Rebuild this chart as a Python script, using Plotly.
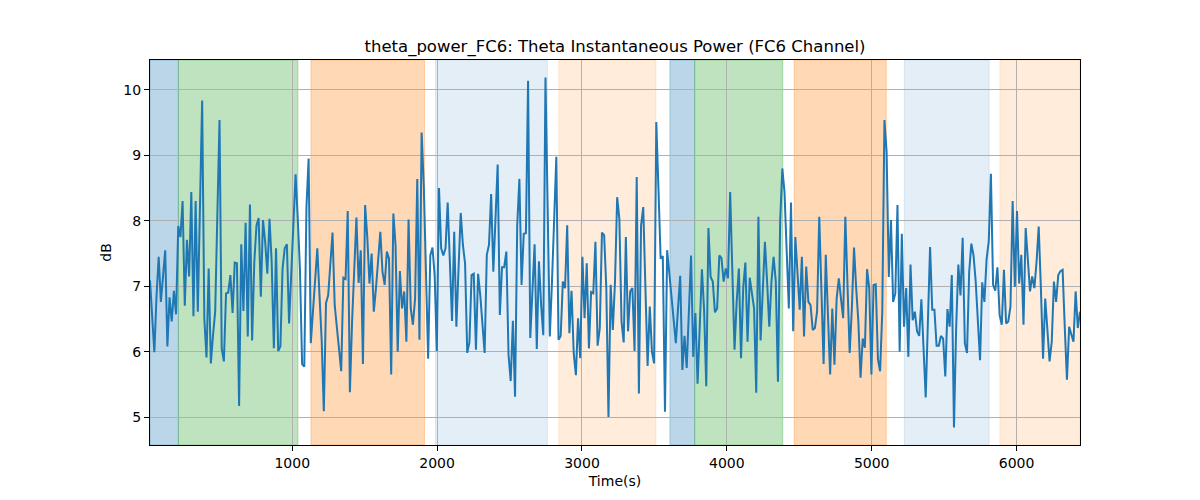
import plotly.graph_objects as go

# ---- data ----
t_start = 18.0      # first sample time (s)
t_step = 15.0       # sampling step (s)

power_db = [
    # 0-49
    7.09, 6.55, 5.99, 6.85, 7.45, 6.76, 7.20, 7.55, 6.08, 6.83,
    6.46, 6.93, 6.57, 7.92, 7.75, 8.30, 6.70, 7.71, 7.15, 8.44,
    6.54, 8.30, 6.61, 8.20, 9.84, 6.51, 5.91, 7.27, 5.82, 6.25,
    6.61, 8.10, 9.54, 6.05, 5.85, 6.89, 6.90, 7.17, 6.59, 7.36,
    7.35, 5.17, 7.64, 6.62, 7.97, 6.23, 8.25, 6.17, 7.37, 7.93,
    # 50-103
    8.04, 6.84, 8.01, 7.68, 7.19, 8.03, 7.37, 6.05, 7.58, 6.01,
    6.08, 7.27, 7.58, 7.64, 6.43, 7.19, 8.01, 8.71, 8.03, 7.27,
    5.81, 5.77, 8.21, 8.95, 6.13, 6.64, 7.07, 7.58, 6.86, 6.18,
    5.09, 6.74, 6.86, 7.32, 7.82, 6.71, 6.36, 6.05, 5.70, 7.13,
    7.11, 8.15, 5.38, 6.46, 7.14, 8.05, 7.05, 7.55, 5.81, 8.24,
    7.75, 7.04, 7.50, 6.61,
    # 104-156
    6.97, 7.37, 7.83, 7.22, 7.02, 7.53, 7.42, 5.65, 8.11, 7.63,
    6.00, 7.23, 6.66, 6.92, 6.15, 8.02, 6.66, 6.41, 6.81, 8.64,
    6.18, 9.35, 8.54, 7.22, 5.89, 7.47, 7.59, 7.17, 6.01, 8.50,
    7.58, 7.47, 7.58, 8.28, 7.37, 6.47, 7.83, 6.38, 7.27, 8.12,
    7.63, 7.35, 5.98, 6.14, 7.17, 7.19, 6.03, 7.19, 6.86, 6.36,
    5.98, 7.48, 7.63,
    # 157-211
    8.41, 7.22, 8.03, 8.86, 6.56, 7.29, 7.29, 7.53, 5.95, 5.55,
    6.47, 5.31, 7.93, 8.64, 7.02, 7.80, 7.81, 10.14, 6.21, 6.97,
    7.64, 6.04, 7.38, 6.71, 6.25, 10.19, 7.98, 6.23, 7.07, 7.98,
    8.98, 6.18, 6.24, 7.07, 6.97, 7.93, 6.28, 6.93, 5.98, 5.64,
    6.51, 5.90, 7.45, 6.51, 7.35, 6.05, 6.91, 6.89, 7.68, 6.09,
    6.36, 7.82, 7.78, 6.97, 5.00,
    # 212-264
    7.02, 6.33, 7.07, 8.36, 8.03, 6.46, 6.14, 7.75, 6.31, 6.92,
    6.97, 6.01, 8.67, 5.36, 7.93, 8.21, 6.97, 5.78, 6.69, 6.00,
    5.82, 9.51, 8.49, 7.42, 7.46, 5.08, 7.55, 7.17, 6.79, 6.46,
    6.13, 6.66, 7.16, 5.72, 6.24, 5.75, 6.66, 7.47, 5.92, 6.59,
    5.51, 6.46, 7.26, 6.64, 5.47, 7.89, 7.14, 7.07, 6.60, 6.66,
    7.47, 7.43, 7.07,
    # 265-317
    7.27, 7.12, 8.44, 7.22, 6.03, 6.76, 7.27, 5.90, 6.97, 7.36,
    6.15, 7.13, 6.86, 6.66, 5.37, 8.06, 6.17, 6.97, 7.68, 7.07,
    6.38, 7.07, 7.45, 7.07, 5.54, 7.98, 8.80, 8.44, 7.37, 6.66,
    8.28, 6.31, 7.75, 7.22, 6.64, 7.45, 6.23, 7.30, 6.76, 6.71,
    6.33, 6.36, 6.61, 8.06, 6.97, 5.81, 7.48, 6.51, 5.65, 6.66,
    5.80, 6.81, 7.12,
    # 318-370
    6.81, 6.51, 8.06, 6.97, 5.98, 6.66, 7.59, 6.97, 6.46, 5.60,
    6.20, 6.06, 7.26, 6.97, 5.65, 7.02, 7.03, 5.89, 5.70, 6.61,
    9.54, 9.05, 7.14, 8.01, 6.76, 6.89, 8.24, 6.00, 7.80, 6.38,
    6.97, 5.92, 7.33, 6.48, 6.61, 6.31, 6.24, 6.80, 6.05, 5.30,
    6.46, 7.60, 6.64, 6.64, 6.09, 6.09, 6.24, 6.20, 5.62, 6.65,
    6.38, 7.17, 4.84,
    # 371-428
    6.36, 7.33, 6.86, 7.74, 6.13, 5.98, 7.22, 7.65, 7.47, 7.07,
    6.46, 5.87, 7.06, 6.76, 7.41, 7.68, 8.72, 7.02, 6.93, 7.29,
    6.56, 6.41, 7.25, 6.43, 6.46, 6.69, 8.30, 6.99, 8.15, 7.04,
    7.48, 6.41, 7.89, 7.42, 6.92, 7.15, 6.97, 7.37, 7.91, 6.97,
    5.89, 6.81, 6.36, 5.85, 6.15, 7.07, 6.76, 7.17, 7.23, 7.25,
    6.36, 5.57, 6.38, 6.28, 6.15, 6.92, 6.36, 6.61,
]

time_s = [t_start + t_step * i for i in range(len(power_db))]

# shaded segments: (start, end, colour name, strength)
seg_start = [18, 214, 1129, 1989, 2840, 3607, 3778, 4465, 5225, 5885]
seg_end = [214, 1039, 1913, 2761, 3510, 3778, 4386, 5101, 5811, 6460]
seg_color = ["blue", "green", "orange", "blue", "orange",
             "blue", "green", "orange", "blue", "orange"]
seg_alpha = [0.3, 0.3, 0.3, 0.12, 0.15, 0.3, 0.3, 0.3, 0.12, 0.15]

rgb = {"blue": (31, 119, 180), "green": (44, 160, 44), "orange": (255, 127, 14)}

title_text = "theta_power_FC6: Theta Instantaneous Power (FC6 Channel)"
x_ticks = [1000, 2000, 3000, 4000, 5000, 6000]
y_ticks = [5, 6, 7, 8, 9, 10]

# ---- figure ----
fig = go.Figure()

x_lo, x_hi = time_s[0], time_s[-1]
for s, e, c, a in zip(seg_start, seg_end, seg_color, seg_alpha):
    r, g, b = rgb[c]
    fig.add_vrect(
        x0=max(s, x_lo), x1=min(e, x_hi),
        fillcolor=f"rgba({r},{g},{b},{a})",
        line=dict(color=f"rgba({r},{g},{b},{a})", width=1),
        layer="below",
    )

fig.add_trace(go.Scatter(
    x=time_s, y=power_db, mode="lines",
    line=dict(color="#1f77b4", width=2),
    showlegend=False,
))

ymin, ymax = min(power_db), max(power_db)
pad = (ymax - ymin) * 0.05

# the page body adds an 8px offset; margins compensate for it
fig.update_layout(
    width=1200, height=500,
    margin=dict(l=142, r=128, t=52, b=63),
    paper_bgcolor="white", plot_bgcolor="white",
    font=dict(family="DejaVu Sans", size=14, color="black"),
    title=dict(text=title_text, x=0.5, xref="paper", xanchor="center",
               y=1 - 38 / 500, yref="container", yanchor="middle",
               font=dict(size=16.5, color="black")),
)
fig.update_xaxes(
    range=[x_lo, x_hi],
    tickvals=x_ticks, ticks="outside", ticklen=5, tickcolor="black",
    showgrid=True, gridcolor="#b0b0b0", gridwidth=1,
    showline=True, linecolor="black", linewidth=1, mirror=True,
    zeroline=False,
    title=dict(text="Time(s)", font=dict(size=14), standoff=6),
)
fig.update_yaxes(
    range=[ymin - pad, ymax + pad],
    tickvals=y_ticks, ticks="outside", ticklen=5, tickcolor="black",
    showgrid=True, gridcolor="#b0b0b0", gridwidth=1,
    showline=True, linecolor="black", linewidth=1, mirror=True,
    zeroline=False,
    title=dict(text="dB", font=dict(size=14), standoff=8),
)

fig.write_html("out.html")
